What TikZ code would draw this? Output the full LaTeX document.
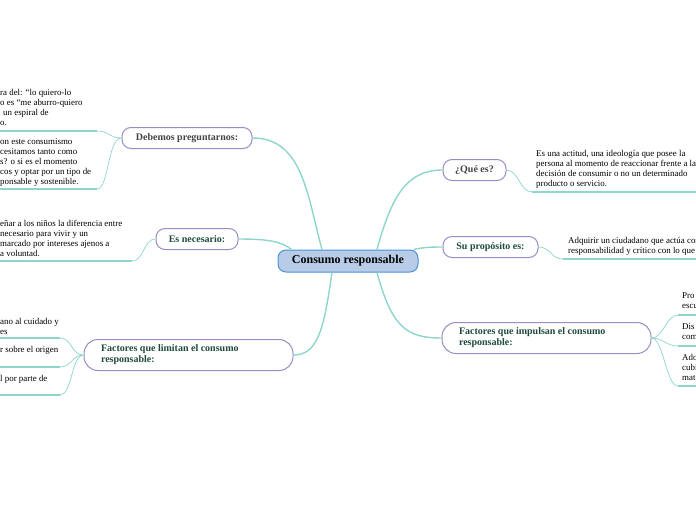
\documentclass[tikz,border=0pt]{standalone}
\usepackage{fontspec}
\setmainfont{Liberation Serif}
\usetikzlibrary{positioning}
\definecolor{linkteal}{HTML}{8ED6CB}
\definecolor{topicpurple}{HTML}{9A8DC6}
\definecolor{rootfill}{HTML}{B8CCE8}
\definecolor{rootline}{HTML}{4A93D2}
\definecolor{labelgreen}{HTML}{1E4B3B}
\definecolor{labelgrey}{HTML}{444444}

\begin{document}
\begin{tikzpicture}[x=1pt, y=-1pt,
    root/.style={draw=rootline, fill=rootfill, line width=1pt, rounded corners=8pt,
                 minimum width=140pt, minimum height=22pt, inner sep=0,
                 font=\fontsize{12}{14}\selectfont\bfseries},
    topic/.style={draw=topicpurple, fill=white, line width=1pt, rounded corners=9pt,
                  minimum height=21pt, inner sep=0, text=labelgreen,
                  font=\fontsize{10}{11}\selectfont\bfseries},
    bigtopic/.style={topic, rounded corners=14pt, minimum width=209pt,
                     minimum height=31pt, text width=175pt, align=flush left},
    leaf/.style={inner sep=0, align=flush left, anchor=north west,
                 font=\fontsize{8.9}{10}\selectfont},
    link/.style={draw=linkteal, line width=1.4pt},
    twig/.style={draw=linkteal, line width=0.7pt},
    bar/.style={draw=linkteal, line width=2.2pt}
  ]
  \useasboundingbox (0,0) rectangle (696,520);
  \coordinate (edgeL) at (0,0);
  \coordinate (edgeR) at (696,0);

  % central topic
  \node[root] (root) at (348,261) {Consumo responsable};

  % left branches
  \node[topic, minimum width=130pt, text=labelgrey] (deb) at (187,138) {Debemos preguntarnos:};
  \node[topic, minimum width=82pt] (nec) at (197,239) {Es necesario:};
  \node[bigtopic] (lim) at (188.5,355) {Factores que limitan el consumo\\responsable:};

  % right branches
  \node[topic, minimum width=63pt, text=labelgrey] (que) at (474.5,170) {¿Qué es?};
  \node[topic, minimum width=95pt] (pro) at (490.5,247) {Su propósito es:};
  \node[bigtopic] (imp) at (546.5,338) {Factores que impulsan el consumo\\responsable:};

  % leaves
  \node[leaf] (deb-a) at (0,89) {ra del: “lo quiero-lo\\o es “me aburro-quiero\\\hspace*{3pt}un espiral de\\o.};
  \node[leaf] (deb-b) at (0,138) {on este consumismo\\cesitamos tanto como\\s? o si es el momento\\cos y optar por un tipo de\\ponsable y sostenible.};
  \node[leaf] (nec-a) at (0,220) {eñar a los niños la diferencia entre\\necesario para vivir y un\\marcado por intereses ajenos a\\a voluntad.};
  \node[leaf] (lim-a) at (0,318) {ano al cuidado y\\es};
  \node[leaf] (lim-b) at (0,346) {r sobre el origen};
  \node[leaf] (lim-c) at (0,375) {l por parte de};
  \node[leaf] (que-a) at (536,150) {Es una actitud, una ideología que posee la\\persona al momento de reaccionar frente a la\\decisión de consumir o no un determinado\\producto o servicio.};
  \node[leaf] (pro-a) at (568,237) {Adquirir un ciudadano que actúa con\\responsabilidad y crítico con lo que c};
  \node[leaf] (imp-a) at (682,292) {Pro\\escu};
  \node[leaf] (imp-b) at (682,323) {Dis\\com};
  \node[leaf] (imp-c) at (682,354) {Ado\\cubi\\mat};

  % leaf bar ends
  \coordinate (deb1) at (97,131);
  \coordinate (deb2) at (97,189);
  \coordinate (nec1) at (132,261);
  \coordinate (lim1) at (60,338);
  \coordinate (lim2) at (60,367);
  \coordinate (lim3) at (60,395);
  \coordinate (que1) at (532,192);
  \coordinate (pro1) at (563,259);
  \coordinate (imp1) at (678,315);
  \coordinate (imp2) at (678,346);
  \coordinate (imp3) at (678,386);

  % main links
  \draw[link] ([xshift=-26pt]root.north) .. controls +(-15,-55) and +(50,0) .. (deb.east);
  \draw[link] ([xshift=14pt]root.north west) .. controls +(-10,-8) and +(30,0) .. (nec.east);
  \draw[link] ([xshift=-16pt]root.south) .. controls +(-8,55) and +(25,0) .. (lim.east);
  \draw[link] ([xshift=29pt]root.north) .. controls +(15,-55) and +(-35,0) .. (que.west);
  \draw[link] ([xshift=-5pt]root.north east) .. controls +(10,-2) and +(-15,0) .. (pro.west);
  \draw[link] ([xshift=29pt]root.south) .. controls +(15,55) and +(-35,0) .. (imp.west);

  % twigs
  \draw[twig] (deb.west) .. controls +(-12,0) and +(12,0) .. (deb1);
  \draw[twig] (deb.west) .. controls +(-14,0) and +(12,0) .. (deb2);
  \draw[twig] (nec.west) .. controls +(-12,0) and +(12,0) .. (nec1);
  \draw[twig] (lim.west) .. controls +(-12,0) and +(12,0) .. (lim1);
  \draw[twig] (lim.west) .. controls +(-12,0) and +(12,0) .. (lim2);
  \draw[twig] (lim.west) .. controls +(-12,0) and +(12,0) .. (lim3);
  \draw[twig] (que.east) .. controls +(12,0) and +(-12,0) .. (que1);
  \draw[twig] (pro.east) .. controls +(12,0) and +(-12,0) .. (pro1);
  \draw[twig] (imp.east) .. controls +(12,0) and +(-12,0) .. (imp1);
  \draw[twig] (imp.east) .. controls +(12,0) and +(-12,0) .. (imp2);
  \draw[twig] (imp.east) .. controls +(12,0) and +(-12,0) .. (imp3);

  % bars
  \draw[bar] (deb1) -- (deb1 -| edgeL);
  \draw[bar] (deb2) -- (deb2 -| edgeL);
  \draw[bar] (nec1) -- (nec1 -| edgeL);
  \draw[bar] (lim1) -- (lim1 -| edgeL);
  \draw[bar] (lim2) -- (lim2 -| edgeL);
  \draw[bar] (lim3) -- (lim3 -| edgeL);
  \draw[bar] (que1) -- (que1 -| edgeR);
  \draw[bar] (pro1) -- (pro1 -| edgeR);
  \draw[bar] (imp1) -- (imp1 -| edgeR);
  \draw[bar] (imp2) -- (imp2 -| edgeR);
  \draw[bar] (imp3) -- (imp3 -| edgeR);
\end{tikzpicture}
\end{document}
